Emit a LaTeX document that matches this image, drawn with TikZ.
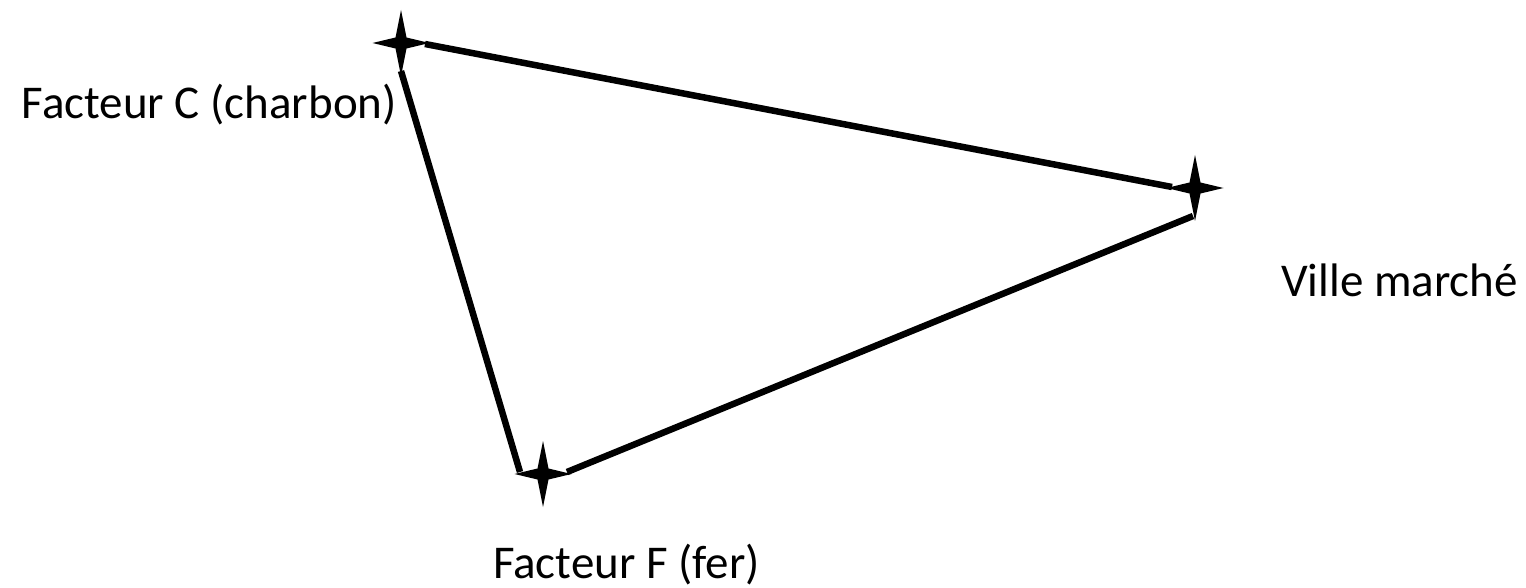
\documentclass[tikz,border=0pt]{standalone}
\usepackage{fontspec}
\setmainfont{Carlito}
\begin{document}
\begin{tikzpicture}[x=1pt,y=-1pt,
  starshape/.style={fill=black},
  edge/.style={line width=6.5pt,line cap=butt},
  lbl/.style={inner sep=0pt,font=\fontsize{47}{56}\selectfont}]
\useasboundingbox (0,0) rectangle (1526,588);
% stars
\newcommand{\fourstar}[1]{%
  \fill[starshape] #1 ++(0,-33) -- ++(5.5,27.5) -- ++(23,5.5) -- ++(-23,5.5) -- ++(-5.5,27.5) -- ++(-5.5,-27.5) -- ++(-23,-5.5) -- ++(23,-5.5) -- cycle;}
\coordinate (C) at (401,43);
\coordinate (V) at (1195,188);
\coordinate (F) at (543,474);
\fourstar{(C)}
\fourstar{(V)}
\fourstar{(F)}
% connector ends at star tips
\coordinate (Cr) at (425,44);
\coordinate (Cb) at (401,71);
\coordinate (Vl) at (1172,187);
\coordinate (Vb) at (1193,216);
\coordinate (Fl) at (520,472);
\coordinate (Fr) at (567,472);
\draw[edge] (Cr) -- (Vl);
\draw[edge] (Cb) -- (Fl);
\draw[edge] (Fr) -- (Vb);
% labels
\node[lbl,anchor=base east] (lc) at (397,119) {Facteur C (charbon)};
\node[lbl,anchor=base east] (lv) at (1518,296) {Ville marché};
\node[lbl,anchor=base east] (lf) at (760,578) {Facteur F (fer)};
\end{tikzpicture}
\end{document}
